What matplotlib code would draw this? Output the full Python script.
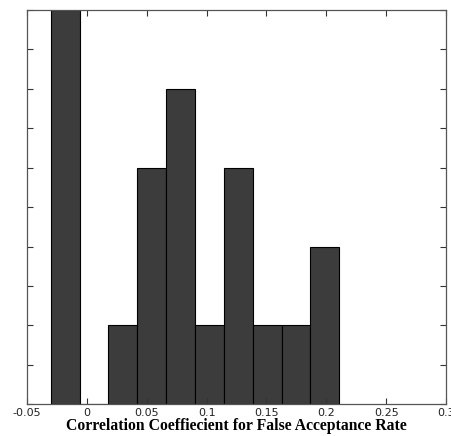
import matplotlib.pyplot as plt
import numpy as np

# histogram of correlation coefficients (10 bins, MATLAB hist style)
BIN_LEFT = [-0.0302, -0.0061, 0.0180, 0.0421, 0.0662, 0.0903, 0.1144, 0.1385, 0.1626, 0.1867]
BIN_WIDTH = 0.0241
COUNTS = [5, 0, 1, 3, 4, 1, 3, 1, 1, 2]
X_TICKS = [-0.05, 0, 0.05, 0.1, 0.15, 0.2, 0.25, 0.3]
X_LABELS = ["-0.05", "0", "0.05", "0.1", "0.15", "0.2", "0.25", "0.3"]


def main():
    fig = plt.figure(figsize=(4.51, 4.36), dpi=100)
    ax = fig.add_axes([0.06, 0.073, 0.929, 0.904])

    ax.bar(BIN_LEFT, COUNTS, width=BIN_WIDTH, align="edge",
           color="#3c3c3c", edgecolor="#000000", linewidth=0.8)

    ax.set_xlim(-0.05, 0.3)
    ax.set_ylim(0, 5)
    ax.set_xticks(X_TICKS)
    ax.set_xticklabels(X_LABELS, fontsize=8, color="#222222")
    ax.set_yticks(np.arange(0, 5.01, 0.5))
    ax.set_yticklabels([])
    ax.tick_params(direction="in", length=4, width=0.8, top=True, right=True,
                   color="#333333", pad=3)
    for sp in ax.spines.values():
        sp.set_color("#555555")
        sp.set_linewidth(0.9)

    ax.set_xlabel("Correlation Coeffiecient for False Acceptance Rate",
                  fontsize=11.3, fontweight="bold", family="Liberation Serif", labelpad=0)

    fig.savefig("out.png", dpi=100, facecolor="white")
    plt.close(fig)


if __name__ == "__main__":
    main()
